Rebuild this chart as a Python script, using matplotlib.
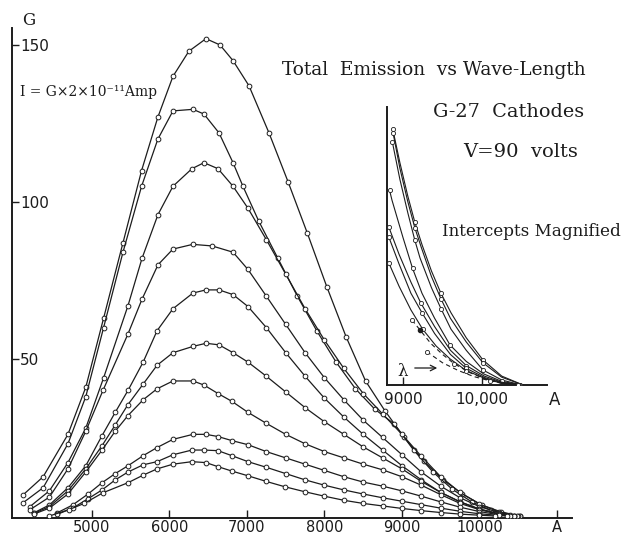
import matplotlib
matplotlib.use("Agg")
import matplotlib.pyplot as plt

# ---------------- data (main chart: G vs wavelength, Angstrom) ----------------
wl1 = [4110, 4370, 4690, 4920, 5150, 5400, 5640, 5850, 6045, 6250, 6471, 6652, 6820, 7026, 7284,
       7529, 7780, 8030, 8280, 8530, 8780, 9030, 9280, 9530, 9780, 10030, 10280, 10520]
g1 = [6.7, 12.5, 26, 41, 63, 87, 110, 127, 140, 148, 152, 150, 145, 137, 122,
      106.5, 90, 73, 57, 43, 33.5, 25, 17.5, 11.5, 7, 3.5, 1.3, 0]

wl2 = [4110, 4370, 4690, 4920, 5150, 5400, 5640, 5850, 6045, 6303, 6445, 6639, 6820, 6948, 7150,
       7400, 7650, 7900, 8150, 8400, 8650, 8900, 9150, 9400, 9650, 9900, 10150, 10400, 10520]
g2 = [4.2, 9, 23, 38, 60, 84, 105, 120, 129, 129.5, 128, 122, 112.5, 105, 94,
      82, 70, 59, 49, 40.5, 34, 29.3, 21, 14, 8.5, 4.5, 1.8, 0.4, 0]

wl3 = [4200, 4450, 4690, 4920, 5150, 5465, 5645, 5852, 6045, 6290, 6445, 6626, 6820, 7013, 7250,
       7500, 7750, 8000, 8250, 8500, 8750, 9000, 9250, 9500, 9750, 10000, 10250, 10500]
g3 = [3, 8, 17, 28, 44, 67, 82, 96, 105, 110.6, 112.5, 110.6, 105, 98, 88,
      77, 66, 56, 47, 39, 32.5, 26, 19, 12.5, 7.5, 3.8, 1.3, 0]

wl4 = [4200, 4450, 4690, 4920, 5142, 5465, 5645, 5852, 6045, 6300, 6550, 6820, 7013, 7250, 7500,
       7750, 8000, 8250, 8500, 8750, 9000, 9250, 9500, 9750, 10000, 10250, 10480]
g4 = [2, 6, 15, 27, 40, 58, 69, 80, 85, 86.5, 86, 84, 78.5, 70, 61,
      52, 44, 37, 30.5, 25, 19.5, 14, 9.5, 5.8, 3, 1.1, 0]

wl5 = [4250, 4450, 4690, 4920, 5130, 5300, 5465, 5660, 5840, 6045, 6303, 6471, 6639, 6820, 7013,
       7250, 7500, 7750, 8000, 8250, 8500, 8750, 9000, 9250, 9500, 9750, 10000, 10250, 10450]
g5 = [1, 3.5, 9, 16, 25.6, 33, 40, 49, 59, 66, 71, 72, 72, 70.5, 66.7,
      60, 52, 44.5, 37.5, 31.5, 26, 21, 16, 11.5, 7.5, 4.5, 2.2, 0.7, 0]

wl6 = [4250, 4450, 4690, 4920, 5130, 5300, 5465, 5660, 5840, 6045, 6303, 6471, 6639, 6820, 7013,
       7250, 7500, 7750, 8000, 8250, 8500, 8750, 9000, 9250, 9500, 9750, 10000, 10250, 10450]
g6 = [0.8, 3, 8, 15, 22.4, 29, 35.5, 42, 48, 52, 54, 55, 54.5, 52, 49,
      44.5, 39.5, 34.5, 30, 26, 22, 18.5, 15, 11, 7.5, 4.5, 2.2, 0.7, 0]

wl7 = [4250, 4450, 4690, 4920, 5130, 5300, 5465, 5660, 5840, 6045, 6303, 6445, 6626, 6806, 7013,
       7250, 7500, 7750, 8000, 8250, 8500, 8750, 9000, 9250, 9500, 9750, 10000, 10250, 10450]
g7 = [0.6, 2.5, 7, 14, 21, 27, 32, 37, 40.5, 43, 43, 41.7, 39, 36.5, 33,
      29.5, 26, 23, 20.5, 18.5, 16.5, 14.7, 12.5, 9.8, 6.8, 4, 2, 0.6, 0]

wl8 = [4550, 4750, 4950, 5130, 5300, 5465, 5660, 5840, 6045, 6303, 6471, 6626, 6806, 7013, 7250,
       7500, 7750, 8000, 8250, 8500, 8750, 9000, 9250, 9500, 9750, 10000, 10250, 10400]
g8 = [1, 3.5, 7, 10.6, 13.5, 16, 19.2, 21.8, 24.4, 26, 26, 25.3, 24, 22.7, 20.5,
      18.5, 16.5, 14.5, 12.5, 10.8, 9.5, 8, 6.3, 4.5, 2.8, 1.4, 0.4, 0]

wl9 = [4550, 4750, 4950, 5130, 5300, 5465, 5660, 5840, 6045, 6290, 6445, 6626, 6806, 7013, 7250,
       7500, 7750, 8000, 8250, 8500, 8750, 9000, 9250, 9500, 9750, 10000, 10250, 10350]
g9 = [0.5, 2.5, 5.5, 8.3, 11.5, 14, 16.3, 17.3, 19.5, 21, 21, 20.8, 19.2, 17.3, 15.5,
      13.5, 11.5, 9.8, 8.3, 7, 5.8, 4.7, 3.6, 2.5, 1.5, 0.7, 0.2, 0]

wl10 = [4450, 4700, 4900, 5142, 5465, 5660, 5840, 6045, 6290, 6471, 6626, 6806, 7013, 7250, 7490,
        7750, 8000, 8250, 8500, 8750, 9000, 9250, 9500, 9750, 10000, 10200]
g10 = [0, 2, 4, 7.4, 10.6, 13, 15, 16.5, 17.3, 17, 15.7, 14.3, 12.8, 11, 9.3,
       7.7, 6.3, 5, 4, 3.2, 2.4, 1.7, 1.1, 0.6, 0.25, 0]

main_wl = [wl1, wl2, wl3, wl4, wl5, wl6, wl7, wl8, wl9, wl10]
main_g = [g1, g2, g3, g4, g5, g6, g7, g8, g9, g10]

x_ticks = [5000, 6000, 7000, 8000, 9000, 10000, 11000]
x_tick_labels = ["5000", "6000", "7000", "8000", "9000", "10000", "A"]
y_ticks = [50, 100, 150]
y_tick_labels = ["50", "100", "150"]

# ---------------- data (inset: intercepts magnified) ----------------
iwA = [8870, 8960, 9060, 9150, 9240, 9360, 9480, 9607, 9800, 10012, 10250, 10520]
iyA = [92, 80, 68, 58.5, 50.5, 41, 33, 26, 17, 9, 3.2, 0]
iwB = [8875, 8960, 9060, 9150, 9230, 9360, 9480, 9600, 9800, 10012, 10250, 10520]
iyB = [90.5, 78, 66, 56.5, 49.6, 39, 31, 24, 15.5, 8, 2.8, 0]
iwC = [8865, 8960, 9060, 9150, 9215, 9360, 9480, 9607, 9800, 10012, 10250, 10500]
iyC = [87.4, 74, 62, 52, 45.7, 35, 27.5, 20.1, 12.5, 5.4, 1.8, 0]
iwD = [8830, 8860, 9000, 9120, 9240, 9400, 9595, 9800, 10020, 10250, 10500]
iyD = [70, 66.5, 53, 42, 33, 24, 14.4, 8.5, 4, 1.3, 0]
iwE = [8820, 8950, 9100, 9225, 9400, 9600, 9800, 10030, 10250, 10480]
iyE = [56.8, 47, 37, 29.5, 21, 12.5, 7, 3.2, 1, 0]
iwF = [8820, 8950, 9100, 9240, 9400, 9600, 9800, 10040, 10250, 10470]
iyF = [53.2, 43.5, 33, 26, 18.5, 11, 6, 2.6, 0.8, 0]
iwG = [8820, 8950, 9100, 9250, 9420, 9595, 9800, 10050, 10250, 10460]
iyG = [43.9, 35.5, 27, 20, 14, 9.4, 5.2, 2.2, 0.6, 0]
iwH = [9113, 9215, 9350, 9500, 9650, 9850, 10050, 10250, 10450]
iyH = [23.4, 19.8, 15, 11, 7.6, 4.4, 2, 0.6, 0]
iwI = [9300, 9500, 9700, 9900, 10100, 10300, 10430]
iyI = [12, 8, 5.2, 3, 1.5, 0.5, 0]

inset_solid = [(iwA, iyA), (iwB, iyB), (iwC, iyC), (iwD, iyD), (iwE, iyE), (iwF, iyF), (iwG, iyG)]
inset_dashed = [(iwH, iyH), (iwI, iyI)]
inset_ticks = [9000, 10000]
inset_tick_labels = ["9000", "10,000"]

# ---------------- figure ----------------
W, H = 623, 535
fig = plt.figure(figsize=(W / 100, H / 100), dpi=100)
fig.patch.set_facecolor("white")
ink = "#1c1c1c"

def fx(px):
    return px / W

def fy(py):
    return 1 - py / H

ax = fig.add_axes([fx(12), fy(518), fx(572) - fx(12), fy(28) - fy(518)])
ax.set_xlim(3968, 11194)
ax.set_ylim(-0.64, 155.4)
for s in ["top", "right"]:
    ax.spines[s].set_visible(False)
for s in ["left", "bottom"]:
    ax.spines[s].set_linewidth(1.4)
    ax.spines[s].set_color(ink)

for wl, g in zip(main_wl, main_g):
    ax.plot(wl, g, "-", color=ink, lw=0.9, marker="o", ms=3.4, mfc="white",
            mec=ink, mew=0.7, zorder=3)

ax.set_xticks(x_ticks)
ax.set_xticklabels(x_tick_labels)
ax.set_yticks(y_ticks)
ax.set_yticklabels(y_tick_labels)
ax.tick_params(axis="x", direction="in", length=6, width=1.0, colors=ink,
               labelsize=10.5, pad=1.5)
ax.tick_params(axis="y", direction="in", length=5, width=1.0, colors=ink,
               labelsize=11, pad=-6)
for lab in ax.get_yticklabels():
    lab.set_horizontalalignment("left")

# ---------------- inset ----------------
axi = fig.add_axes([fx(387), fy(385), fx(547) - fx(387), fy(107) - fy(385)])
axi.set_xlim(8797, 10823)
axi.set_ylim(0, 100)
axi.patch.set_alpha(0)
for s in ["top", "right"]:
    axi.spines[s].set_visible(False)
for s in ["left", "bottom"]:
    axi.spines[s].set_linewidth(1.4)
    axi.spines[s].set_color(ink)
for wl, y in inset_solid:
    axi.plot(wl, y, "-", color=ink, lw=0.8, marker="o", ms=3.0, mfc="white",
             mec=ink, mew=0.6, markevery=3, zorder=3)
for wl, y in inset_dashed:
    axi.plot(wl, y, "--", color=ink, lw=0.8, marker="o", ms=3.0, mfc="white",
             mec=ink, mew=0.6, markevery=4, dashes=(4, 3), zorder=3)
axi.plot(iwH[1], iyH[1], "o", color=ink, ms=3.0, zorder=4)
axi.set_xticks(inset_ticks)
axi.set_xticklabels(inset_tick_labels)
axi.set_yticks([])
axi.tick_params(axis="x", direction="in", length=6, width=1.0, colors=ink,
                labelsize=11, pad=5)
axi.annotate("", xy=(440 / W, fy(368)), xytext=(412 / W, fy(368)),
             xycoords="figure fraction",
             arrowprops=dict(arrowstyle="->", color=ink, lw=0.9))
fig.text(fx(403), fy(372), "λ", fontsize=12, ha="center", va="center", color=ink,
         family="DejaVu Serif")
fig.text(fx(555), fy(400), "A", fontsize=12, ha="center", va="center", color=ink,
         family="DejaVu Sans")

# ---------------- annotations ----------------
fig.text(fx(29), fy(25), "G", fontsize=12, ha="center", va="baseline", color=ink,
         family="DejaVu Serif")
fig.text(fx(20), fy(96), "I = G×2×10⁻¹¹Amp", fontsize=10, ha="left", va="baseline",
         color=ink, family="DejaVu Serif")
fig.text(fx(282), fy(75), "Total  Emission  vs Wave-Length", fontsize=13.4, ha="left",
         va="baseline", color=ink, family="DejaVu Serif")
fig.text(fx(433), fy(117), "G-27  Cathodes", fontsize=13.9, ha="left", va="baseline",
         color=ink, family="DejaVu Serif")
fig.text(fx(463), fy(157), "V=90  volts", fontsize=14, ha="left", va="baseline",
         color=ink, family="DejaVu Serif")
fig.text(fx(442), fy(236), "Intercepts Magnified", fontsize=12.1, ha="left",
         va="baseline", color=ink, family="DejaVu Serif")

fig.savefig("out.png", dpi=100, facecolor="white")
